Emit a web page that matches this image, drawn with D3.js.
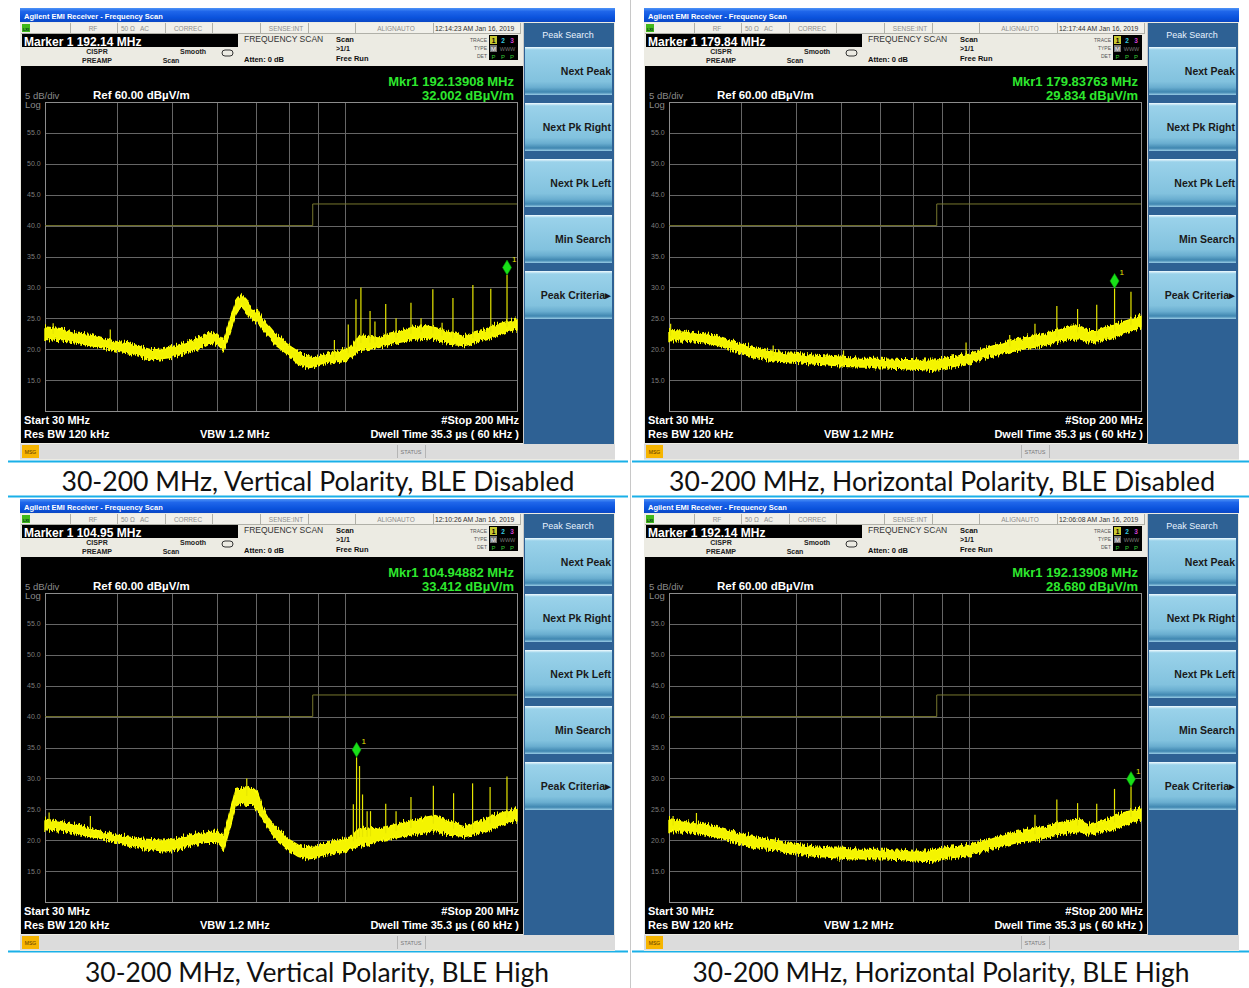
<!DOCTYPE html>
<html>
<head>
<meta charset="utf-8">
<script src="https://cdn.jsdelivr.net/npm/d3@7"></script>
<style>
body { margin: 0; background: #fff; }
svg { display: block; }
text { font-family: "Liberation Sans", Arial, sans-serif; }
</style>
</head>
<body>
<svg id="fig" width="1249" height="988"></svg>
<script>
// ---- data ----
const freqMHz = [30, 32, 34, 36, 38, 40, 42, 44, 46, 48, 50, 52, 54, 56, 58, 60, 61.5, 63, 64.5, 66,
  67.5, 69, 70.5, 72, 74, 76, 78, 80, 83, 86, 89, 92, 96, 100, 103, 106, 110, 115, 120, 126,
  132, 138, 144, 150, 156, 162, 168, 174, 180, 186, 193, 200];

// trace band (lower / upper edge of the noisy trace), dBuV/m
const vDisLo = [21.6, 21.4, 21.0, 20.6, 20.2, 19.7, 19.4, 18.8, 18.3, 18.5, 18.7, 19.2, 19.7, 20.2, 21.0, 20.8, 19.8, 22.5, 25.5, 27.0,
  26.0, 24.8, 24.5, 23.0, 21.8, 20.6, 19.8, 19.0, 17.6, 17.0, 17.2, 17.6, 17.9, 18.2, 18.8, 19.8, 20.0, 20.3, 20.8, 21.2,
  21.6, 21.8, 21.4, 21.1, 20.7, 20.6, 21.0, 21.5, 21.9, 22.3, 22.9, 23.3];
const vDisHi = [23.6, 23.3, 22.6, 22.4, 21.8, 21.2, 21.0, 20.4, 19.9, 20.0, 20.4, 20.8, 21.3, 22.0, 22.8, 22.4, 21.2, 24.5, 27.5, 28.8,
  27.8, 26.2, 26.4, 24.8, 23.6, 22.3, 21.4, 20.6, 19.6, 18.8, 18.6, 19.0, 19.5, 20.0, 20.4, 22.2, 22.0, 22.0, 22.6, 23.0,
  23.6, 23.8, 23.5, 23.0, 22.6, 22.2, 22.6, 23.0, 23.6, 24.1, 24.5, 24.9];

const hDisLo = [21.4, 21.3, 21.1, 20.8, 20.1, 19.3, 18.8, 18.4, 18.1, 18.0, 17.9, 17.7, 17.6, 17.5, 17.4, 17.3, 17.2, 17.2, 17.1, 17.1,
  17.1, 17.0, 17.0, 17.0, 16.9, 16.9, 16.8, 16.8, 16.7, 16.6, 16.7, 17.0, 17.4, 17.7, 18.1, 18.5, 18.9, 19.3, 19.7, 20.1,
  20.4, 20.8, 21.2, 21.6, 21.7, 21.2, 21.2, 21.6, 22.0, 22.5, 23.0, 23.6];
const hDisHi = [23.0, 22.9, 22.5, 22.3, 21.6, 20.8, 20.3, 19.9, 19.6, 19.4, 19.3, 19.1, 19.0, 18.9, 18.8, 18.7, 18.6, 18.6, 18.5, 18.5,
  18.5, 18.5, 18.5, 18.4, 18.4, 18.3, 18.3, 18.3, 18.2, 18.2, 18.3, 18.6, 18.9, 19.3, 19.6, 20.0, 20.5, 21.0, 21.6, 21.9,
  22.3, 22.7, 23.1, 23.7, 23.8, 23.0, 23.0, 23.6, 23.9, 24.4, 24.9, 25.5];

const vHighLo = [21.7, 21.5, 21.0, 20.6, 20.2, 19.6, 19.2, 18.7, 18.5, 18.3, 18.3, 18.7, 19.2, 19.5, 19.7, 19.6, 18.4, 21.8, 25.5, 26.0,
  25.8, 25.8, 25.0, 23.3, 21.5, 20.2, 19.3, 18.3, 17.4, 17.0, 17.1, 17.5, 17.9, 18.3, 18.7, 19.0, 19.3, 19.9, 20.2, 20.6,
  20.9, 21.2, 21.4, 21.0, 20.8, 20.6, 20.9, 21.3, 21.8, 22.3, 22.8, 23.3];
const vHighHi = [23.4, 23.0, 22.5, 21.9, 21.3, 20.8, 20.5, 20.2, 20.1, 20.0, 20.1, 20.4, 20.8, 21.1, 21.4, 21.4, 20.6, 24.3, 28.0, 28.3,
  28.5, 28.3, 27.6, 25.2, 23.3, 22.0, 21.0, 20.1, 19.2, 18.8, 18.9, 19.3, 19.9, 20.2, 20.6, 22.0, 21.8, 22.0, 22.3, 22.8,
  23.2, 23.7, 24.0, 23.3, 22.8, 22.3, 22.7, 23.2, 23.8, 24.3, 24.7, 25.1];

const hHighLo = [21.4, 21.3, 21.0, 20.6, 20.0, 19.3, 18.9, 18.6, 18.5, 18.1, 17.8, 17.6, 17.4, 17.3, 17.2, 17.1, 17.0, 17.0, 17.0, 17.0,
  17.0, 17.0, 17.0, 17.0, 16.9, 16.9, 16.8, 16.7, 16.6, 16.6, 16.8, 17.1, 17.3, 17.5, 17.9, 18.2, 18.6, 19.0, 19.5, 19.8,
  20.1, 20.5, 20.9, 21.2, 21.4, 21.0, 21.2, 21.5, 21.9, 22.3, 22.9, 23.4];
const hHighHi = [23.5, 23.0, 22.7, 22.3, 21.7, 21.0, 20.6, 20.2, 20.0, 19.6, 19.3, 19.1, 18.9, 18.8, 18.7, 18.7, 18.6, 18.6, 18.5, 18.5,
  18.5, 18.5, 18.5, 18.5, 18.4, 18.4, 18.3, 18.2, 18.2, 18.3, 18.6, 18.8, 19.0, 19.3, 19.6, 19.9, 20.2, 20.8, 21.3, 21.7,
  22.0, 22.4, 22.8, 23.2, 23.4, 22.6, 22.9, 23.3, 23.9, 24.4, 24.8, 25.2];

// narrow spikes above the trace [MHz, dBuV/m]
const vDisSpikes = [[31, 24.2], [39, 23.2], [96, 21.5], [101.5, 24.0], [104.7, 28.1], [106.8, 30.0], [110.8, 26.2], [113, 24.5],
  [118, 27.3], [123, 25.0], [130.6, 27.5], [136, 25.0], [142.6, 29.7], [148, 24.3], [154.6, 28.3], [167.5, 30.4], [180, 29.8], [192.14, 32.0]];
const hDisSpikes = [[30.2, 24.1], [45.6, 20.6], [60.5, 19.8], [99, 21.1], [118, 22.3], [130.6, 24.1], [142.6, 27.0], [155, 26.5],
  [167.4, 27.2], [179.84, 29.83], [192.1, 29.3]];
const vHighSpikes = [[30.5, 24.5], [36, 23.9], [67.5, 30.0], [103.6, 25.8], [104.95, 33.41], [106.2, 32.0], [107.5, 27.4], [109.5, 24.7],
  [111, 24.7], [118, 25.9], [123, 24.7], [130.6, 27.0], [142.9, 28.8], [155, 27.6], [167.3, 29.2], [179.5, 28.6], [192.1, 30.3]];
const hHighSpikes = [[30.5, 23.9], [33.5, 24.4], [130.6, 24.1], [142.6, 26.6], [155, 26.0], [167.4, 25.9], [179.8, 28.3], [192.14, 28.68]];

// limit line (FCC class B, 3 m)
const limitF = [30, 88, 88, 200];
const limitDb = [40, 40, 43.5, 43.5];

const yTicks = [55, 50, 45, 40, 35, 30, 25, 20, 15];
const xGrid = [40, 50, 60, 70, 80, 90, 100];
const softkeys = ["Next Peak", "Next Pk Right", "Next Pk Left", "Min Search", "Peak Criteria\u25B8"];

const captions = [
  "30-200 MHz, Vertical Polarity, BLE Disabled",
  "30-200 MHz, Horizontal Polarity, BLE Disabled",
  "30-200 MHz, Vertical Polarity, BLE High",
  "30-200 MHz, Horizontal Polarity, BLE High"
];
const clocks = ["12:14:23 AM Jan 16, 2019", "12:17:44 AM Jan 16, 2019", "12:10:26 AM Jan 16, 2019", "12:06:08 AM Jan 16, 2019"];
const markerFreqs = [192.13908, 179.83763, 104.94882, 192.13908];
const markerLevels = [32.002, 29.834, 33.412, 28.680];
const markerShort = ["192.14", "179.84", "104.95", "192.14"];

const panels = [
  { x: 20, y: 8, lo: vDisLo, hi: vDisHi, spikes: vDisSpikes },
  { x: 644, y: 8, lo: hDisLo, hi: hDisHi, spikes: hDisSpikes },
  { x: 20, y: 499, lo: vHighLo, hi: vHighHi, spikes: vHighSpikes },
  { x: 644, y: 499, lo: hHighLo, hi: hHighHi, spikes: hHighSpikes }
];

const svg = d3.select("#fig");
const defs = svg.append("defs");

function vGrad(id, stops) {
  const lg = defs.append("linearGradient").attr("id", id)
    .attr("x1", "0%").attr("y1", "0%").attr("x2", "0%").attr("y2", "100%");
  stops.forEach(s => lg.append("stop").attr("offset", s[0]).attr("stop-color", s[1]));
}
vGrad("titlebar", [["0%", "#4d93f7"], ["25%", "#1f66ea"], ["70%", "#0a52dc"], ["100%", "#0b47c4"]]);
vGrad("btn", [["0%", "#f2fbff"], ["6%", "#9ad2ea"], ["72%", "#82c2de"], ["84%", "#6aaed0"], ["94%", "#3f86b0"], ["100%", "#9acde6"]]);

// ragged edge look for the detector trace (vertical jitter only)
const rough = defs.append("filter").attr("id", "rough")
  .attr("x", "-2%").attr("y", "-30%").attr("width", "104%").attr("height", "160%");
rough.append("feTurbulence").attr("type", "fractalNoise").attr("baseFrequency", "0.9 0.05")
  .attr("numOctaves", 2).attr("seed", 7).attr("result", "n");
rough.append("feColorMatrix").attr("in", "n").attr("type", "matrix")
  .attr("values", "0 0 0 0 0.5  0 1 0 0 0  0 0 0 0 0  0 0 0 0 1").attr("result", "m");
rough.append("feDisplacementMap").attr("in", "SourceGraphic").attr("in2", "m")
  .attr("scale", 9).attr("xChannelSelector", "R").attr("yChannelSelector", "G");

// ---- table lines ----
const cyan = "#1ab0e8";
[[8, 461.5, 628, 461.5], [632, 461.5, 1249, 461.5], [8, 496.5, 628, 496.5], [632, 496.5, 1249, 496.5],
 [8, 951.5, 628, 951.5], [632, 951.5, 1249, 951.5]].forEach(l => {
  svg.append("line").attr("x1", l[0]).attr("y1", l[1]).attr("x2", l[2]).attr("y2", l[3])
    .attr("stroke", cyan).attr("stroke-width", 2);
});
svg.append("line").attr("x1", 630.5).attr("y1", 0).attr("x2", 630.5).attr("y2", 988)
  .attr("stroke", "#c8c8c8").attr("stroke-width", 1);

// captions
const capPos = [[318, 491, 513], [942, 491, 546], [317, 982, 464], [941, 982, 497]];
captions.forEach((c, i) => {
  svg.append("text").attr("x", capPos[i][0]).attr("y", capPos[i][1])
    .attr("text-anchor", "middle").attr("textLength", capPos[i][2]).attr("lengthAdjust", "spacingAndGlyphs")
    .style("font-family", "Lato, 'Open Sans', sans-serif").style("font-size", "26px").attr("fill", "#111")
    .text(c);
});

function interp(arr, f) {
  const i = Math.max(0, Math.min(freqMHz.length - 2, d3.bisectRight(freqMHz, f) - 1));
  const t = (f - freqMHz[i]) / (freqMHz[i + 1] - freqMHz[i]);
  return arr[i] + (arr[i + 1] - arr[i]) * t;
}

function txt(g, x, y, s, size, fill, opts = {}) {
  return g.append("text").attr("x", x).attr("y", y).text(s)
    .style("font-size", size + "px").attr("fill", fill)
    .style("font-weight", opts.bold ? "bold" : "normal")
    .attr("text-anchor", opts.anchor || "start");
}

function drawPanel(p, k) {
  const g = svg.append("g").attr("transform", `translate(${p.x},${p.y})`);

  // window frame
  g.append("rect").attr("x", 0).attr("y", 0).attr("width", 595).attr("height", 452).attr("fill", "#ecebe3");
  g.append("rect").attr("x", 0).attr("y", 0).attr("width", 595).attr("height", 14).attr("fill", "url(#titlebar)");
  txt(g, 4, 10.5, "Agilent EMI Receiver  - Frequency Scan", 7.5, "#fff", { bold: true });

  // status strip
  g.append("rect").attr("x", 1).attr("y", 15).attr("width", 500).attr("height", 10).attr("fill", "#f1f0ea");
  [50, 97, 145, 192, 240, 288, 335, 413, 500].forEach(d => {
    g.append("line").attr("x1", d + 0.5).attr("y1", 15).attr("x2", d + 0.5).attr("y2", 25).attr("stroke", "#b0b0a8");
  });
  g.append("line").attr("x1", 1).attr("y1", 25.5).attr("x2", 501).attr("y2", 25.5).attr("stroke", "#b0b0a8");
  g.append("rect").attr("x", 2).attr("y", 16).attr("width", 8).attr("height", 8).attr("fill", "#41b81a");
  txt(g, 6, 22.5, "LXI", 4, "#032", { anchor: "middle", bold: true });
  txt(g, 73, 22.5, "RF", 6.5, "#8d8d8d", { anchor: "middle" });
  txt(g, 101, 22.5, "50 \u03A9", 6.5, "#8d8d8d");
  txt(g, 120, 22.5, "AC", 6.5, "#8d8d8d");
  txt(g, 168, 22.5, "CORREC", 6.5, "#8d8d8d", { anchor: "middle" });
  txt(g, 266, 22.5, "SENSE:INT", 6.5, "#8d8d8d", { anchor: "middle" });
  txt(g, 376, 22.5, "ALIGNAUTO", 6.5, "#8d8d8d", { anchor: "middle" });
  txt(g, 415, 22.5, clocks[k], 6.8, "#333");

  // marker readout
  g.append("rect").attr("x", 2).attr("y", 26).attr("width", 216).attr("height", 13).attr("fill", "#000");
  txt(g, 4, 37.5, `Marker 1 ${markerShort[k]} MHz`, 12, "#fff", { bold: true });
  txt(g, 224, 34, "FREQUENCY SCAN", 8.5, "#333");
  txt(g, 316, 34, "Scan", 7.5, "#111", { bold: true });
  txt(g, 316, 43, ">1/1", 7, "#111", { bold: true });
  txt(g, 316, 53, "Free Run", 7.5, "#111", { bold: true });
  txt(g, 77, 46, "CISPR", 7, "#222", { anchor: "middle", bold: true });
  txt(g, 77, 55, "PREAMP", 7, "#222", { anchor: "middle", bold: true });
  txt(g, 173, 46, "Smooth", 7, "#222", { anchor: "middle", bold: true });
  txt(g, 151, 55, "Scan", 7, "#222", { anchor: "middle", bold: true });
  g.append("rect").attr("x", 202).attr("y", 42).attr("width", 11).attr("height", 6).attr("rx", 3)
    .attr("fill", "none").attr("stroke", "#333");
  txt(g, 224, 54, "Atten: 0 dB", 7.5, "#111", { bold: true });

  // trace/type/det box
  txt(g, 467, 34, "TRACE", 5, "#555", { anchor: "end" });
  txt(g, 467, 42, "TYPE", 5, "#555", { anchor: "end" });
  txt(g, 467, 50, "DET", 5, "#555", { anchor: "end" });
  g.append("rect").attr("x", 469).attr("y", 27).attr("width", 29).attr("height", 25).attr("fill", "#000");
  g.append("rect").attr("x", 470).attr("y", 28).attr("width", 7).attr("height", 8).attr("fill", "#c8c830");
  txt(g, 473.5, 34.5, "1", 6.5, "#000", { anchor: "middle", bold: true });
  txt(g, 483, 34.5, "2", 6.5, "#36c8e0", { anchor: "middle", bold: true });
  txt(g, 492, 34.5, "3", 6.5, "#d040d0", { anchor: "middle", bold: true });
  g.append("rect").attr("x", 470).attr("y", 37).attr("width", 7).attr("height", 7).attr("fill", "#777");
  txt(g, 473.5, 43, "M", 6, "#fff", { anchor: "middle" });
  txt(g, 487.5, 43, "WWW", 5.5, "#777", { anchor: "middle" });
  txt(g, 473.5, 50.5, "P", 6, "#3c3", { anchor: "middle" });
  txt(g, 483, 50.5, "P", 6, "#3c3", { anchor: "middle" });
  txt(g, 492, 50.5, "P", 6, "#3c3", { anchor: "middle" });

  // black display
  g.append("rect").attr("x", 1).attr("y", 58).attr("width", 502).attr("height", 377).attr("fill", "#000");

  const x = d3.scaleLog().domain([30, 200]).range([25, 497]);
  const y = d3.scaleLinear().domain([10, 60]).range([403, 94]);

  txt(g, 494, 78, `Mkr1  ${markerFreqs[k].toFixed(5)} MHz`, 13, "#2ee82e", { anchor: "end", bold: true });
  txt(g, 494, 92, `${markerLevels[k].toFixed(3)} dB\u00B5V/m`, 13, "#2ee82e", { anchor: "end", bold: true });
  txt(g, 5, 91, "5 dB/div", 9.5, "#8a8a8a");
  txt(g, 5, 100, "Log", 9.5, "#8a8a8a");
  txt(g, 73, 91, "Ref 60.00 dB\u00B5V/m", 11.5, "#fff", { bold: true });

  // grid
  const grid = g.append("g").attr("stroke", "#666").attr("stroke-width", 1);
  yTicks.forEach(t => grid.append("line").attr("x1", x(30)).attr("x2", x(200))
    .attr("y1", Math.round(y(t)) + 0.5).attr("y2", Math.round(y(t)) + 0.5));
  xGrid.forEach(f => grid.append("line").attr("y1", y(60)).attr("y2", y(10))
    .attr("x1", Math.round(x(f)) + 0.5).attr("x2", Math.round(x(f)) + 0.5));
  g.append("rect").attr("x", x(30) + 0.5).attr("y", y(60) + 0.5).attr("width", x(200) - x(30))
    .attr("height", y(10) - y(60)).attr("fill", "none").attr("stroke", "#8c8c8c");
  yTicks.forEach(t => txt(g, 7, y(t) + 2.5, t.toFixed(1), 7, "#7d7d7d"));

  // limit line
  const lim = limitF.map((f, i) => [x(f), y(limitDb[i])]);
  g.append("path").attr("d", d3.line()(lim)).attr("fill", "none").attr("stroke", "#78782e").attr("stroke-width", 1);

  // trace band
  const band = freqMHz.map((f, i) => ({ f, lo: p.lo[i], hi: p.hi[i] }));
  g.append("path").datum(band)
    .attr("d", d3.area().x(d => x(d.f)).y0(d => y(d.lo)).y1(d => y(d.hi)))
    .attr("fill", "#f4f400").attr("stroke", "#ffff00").attr("stroke-width", 1.4)
    .attr("filter", "url(#rough)");

  // spikes
  p.spikes.forEach(s => {
    const base = (interp(p.lo, s[0]) + interp(p.hi, s[0])) / 2;
    g.append("line").attr("x1", x(s[0])).attr("x2", x(s[0]))
      .attr("y1", y(base)).attr("y2", y(s[1])).attr("stroke", "#e6e600").attr("stroke-width", 1.2);
  });

  // marker diamond
  const mx = x(markerFreqs[k]), my = y(markerLevels[k]);
  g.append("path").attr("d", `M${mx},${my} L${mx + 4.5},${my - 7.5} L${mx},${my - 15} L${mx - 4.5},${my - 7.5} Z`)
    .attr("fill", "#18e018").attr("stroke", "#0a9a0a").attr("stroke-width", 0.5);
  txt(g, mx + 5, my - 13, "1", 8, "#e6e600");

  // footer labels
  txt(g, 4, 416, "Start 30 MHz", 11, "#fff", { bold: true });
  txt(g, 4, 430, "Res BW 120 kHz", 11, "#fff", { bold: true });
  txt(g, 180, 430, "VBW 1.2 MHz", 11, "#fff", { bold: true });
  txt(g, 499, 416, "#Stop 200 MHz", 11, "#fff", { anchor: "end", bold: true });
  txt(g, 499, 430, "Dwell Time 35.3 \u00B5s ( 60 kHz )", 11, "#fff", { anchor: "end", bold: true });

  // message bar
  g.append("rect").attr("x", 0).attr("y", 436).attr("width", 595).attr("height", 15).attr("fill", "#dcdcdc");
  g.append("rect").attr("x", 2).attr("y", 437).attr("width", 17).attr("height", 13).attr("fill", "#f7b500");
  txt(g, 10.5, 446, "MSG", 5, "#553300", { anchor: "middle" });
  [377, 405].forEach(d => g.append("line").attr("x1", d + 0.5).attr("x2", d + 0.5).attr("y1", 437).attr("y2", 450)
    .attr("stroke", "#b5b5b5"));
  txt(g, 391, 446, "STATUS", 5.5, "#777", { anchor: "middle" });

  // softkey column
  g.append("rect").attr("x", 503).attr("y", 15).attr("width", 91).attr("height", 421).attr("fill", "#2e6194");
  g.append("line").attr("x1", 503.5).attr("x2", 503.5).attr("y1", 15).attr("y2", 436).attr("stroke", "#c9c9c9");
  txt(g, 548, 30, "Peak Search", 9, "#e8f2ff", { anchor: "middle" });
  softkeys.forEach((s, i) => {
    const top = 39 + i * 56;
    g.append("rect").attr("x", 505).attr("y", top).attr("width", 87).attr("height", 48).attr("fill", "url(#btn)");
    txt(g, 591, top + 28, s, 10.5, "#1a1a1a", { anchor: "end", bold: true });
  });
}

panels.forEach(drawPanel);
</script>
</body>
</html>
